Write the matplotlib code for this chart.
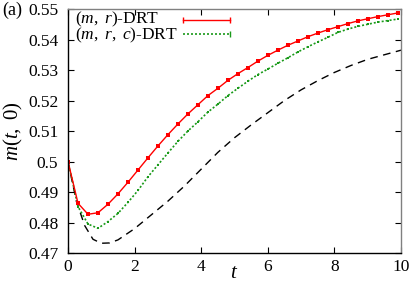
import matplotlib
matplotlib.use("Agg")
import matplotlib.pyplot as plt
from matplotlib.lines import Line2D

plt.rcParams['font.family'] = ['Liberation Serif', 'DejaVu Serif']
plt.rcParams['mathtext.fontset'] = 'custom'
plt.rcParams['mathtext.rm'] = 'Liberation Serif'
plt.rcParams['mathtext.it'] = 'Liberation Serif:italic'

t_pts = [0.0, 0.3, 0.6, 0.9, 1.2, 1.5, 1.8, 2.1, 2.4, 2.7, 3.0, 3.3, 3.6, 3.9,
         4.2, 4.5, 4.8, 5.1, 5.4, 5.7, 6.0, 6.3, 6.6, 6.9, 7.2, 7.5, 7.8, 8.1,
         8.4, 8.7, 9.0, 9.3, 9.6, 9.9]
m_mr = [0.5, 0.4863, 0.4827, 0.4832, 0.4860, 0.4894, 0.4932, 0.4972, 0.5012,
        0.5051, 0.5088, 0.5123, 0.5156, 0.5186, 0.5216, 0.5240, 0.5266, 0.5288,
        0.5308, 0.5329, 0.5348, 0.5365, 0.5381, 0.5395, 0.5409, 0.5421, 0.5432,
        0.5442, 0.5452, 0.5461, 0.5468, 0.5475, 0.5481, 0.5487]
m_mrc = [0.5, 0.4852, 0.4795, 0.4781, 0.4803, 0.4830, 0.4866, 0.4905, 0.4950,
         0.4989, 0.5028, 0.5066, 0.5100, 0.5130, 0.5162, 0.5188, 0.5216, 0.5240,
         0.5263, 0.5285, 0.5303, 0.5322, 0.5340, 0.5359, 0.5376, 0.5392, 0.5407,
         0.5423, 0.5434, 0.5443, 0.5450, 0.5457, 0.5462, 0.5467]
t_ref = [0.0, 0.25, 0.5, 0.75, 1.0, 1.25, 1.5, 2.0, 2.5, 3.0, 3.5, 4.0, 4.5,
         5.0, 5.5, 6.0, 6.5, 7.0, 7.5, 8.0, 8.5, 9.0, 9.5, 10.0]
m_ref = [0.5, 0.4870, 0.4790, 0.4745, 0.4732, 0.4733, 0.4743, 0.4780, 0.4825,
         0.4870, 0.4920, 0.4975, 0.5030, 0.5078, 0.5120, 0.5160, 0.5200, 0.5235,
         0.5265, 0.5292, 0.5315, 0.5335, 0.5350, 0.5365]

labels = [r'$(m,\ r)$-DRT', r'$(m,\ r,\ c)$-DRT']
xticks = [0, 2, 4, 6, 8, 10]
yticks = [0.47, 0.48, 0.49, 0.50, 0.51, 0.52, 0.53, 0.54, 0.55]
yticklabels = ['0.47', '0.48', '0.49', '0.5', '0.51', '0.52', '0.53', '0.54', '0.55']

red = '#ff0000'
green = '#1a9a1a'

fig = plt.figure(figsize=(4.15, 2.88), dpi=100)
ax = fig.add_axes([0.1639, 0.1215, 0.8024, 0.8472])

ax.plot(t_ref, m_ref, color='black', lw=1.0, dashes=(5.5, 4))
ax.plot(t_pts, m_mrc, color=green, lw=1.2, ls=(0, (1.2, 1.2)), marker='s', ms=2.0, mew=0)
ax.plot(t_pts, m_mr, color=red, lw=1.0, marker='s', ms=2.8, mew=0)

ax.set_xlim(0, 10)
ax.set_ylim(0.47, 0.55)
ax.set_xticks(xticks)
ax.set_xticklabels([str(v) for v in xticks])
ax.set_yticks(yticks)
ax.set_yticklabels(yticklabels)
ax.tick_params(direction='in', length=4, width=0.8, top=True, right=True,
               labelsize=12.5, colors='black')
ax.tick_params(axis='y', pad=7)
ax.tick_params(axis='x', pad=4)
for s in ['top', 'right']:
    ax.spines[s].set_color('#808080')
for s in ['left', 'bottom']:
    ax.spines[s].set_color('black')
for s in ax.spines.values():
    s.set_linewidth(1.0)

ax.set_xlabel(r'$t$', fontsize=15)
ax.xaxis.set_label_coords(0.5, -0.045)
ax.set_ylabel(r'$m(t,\ 0)$', fontsize=15)
ax.yaxis.set_label_coords(-0.13, 0.5)
fig.text(0.005, 0.965, '(a)', fontsize=13, ha='left', va='center')

# legend (gnuplot style, text left, sample right)
ax.text(0.022, 0.958, labels[0], transform=ax.transAxes, fontsize=12.5,
        ha='left', va='center')
ax.text(0.022, 0.893, labels[1], transform=ax.transAxes, fontsize=12.5,
        ha='left', va='center')
ax.add_line(Line2D([0.345, 0.487], [0.955, 0.955], transform=ax.transAxes,
                   color=red, lw=1.0, marker='|', ms=5, mew=1.0))
ax.add_line(Line2D([0.345, 0.487], [0.897, 0.897], transform=ax.transAxes,
                   color=green, lw=1.2, ls=(0, (1.2, 1.2)), marker='|', ms=4,
                   markevery=[1], mew=1.0))

fig.savefig('out.png', dpi=100)
